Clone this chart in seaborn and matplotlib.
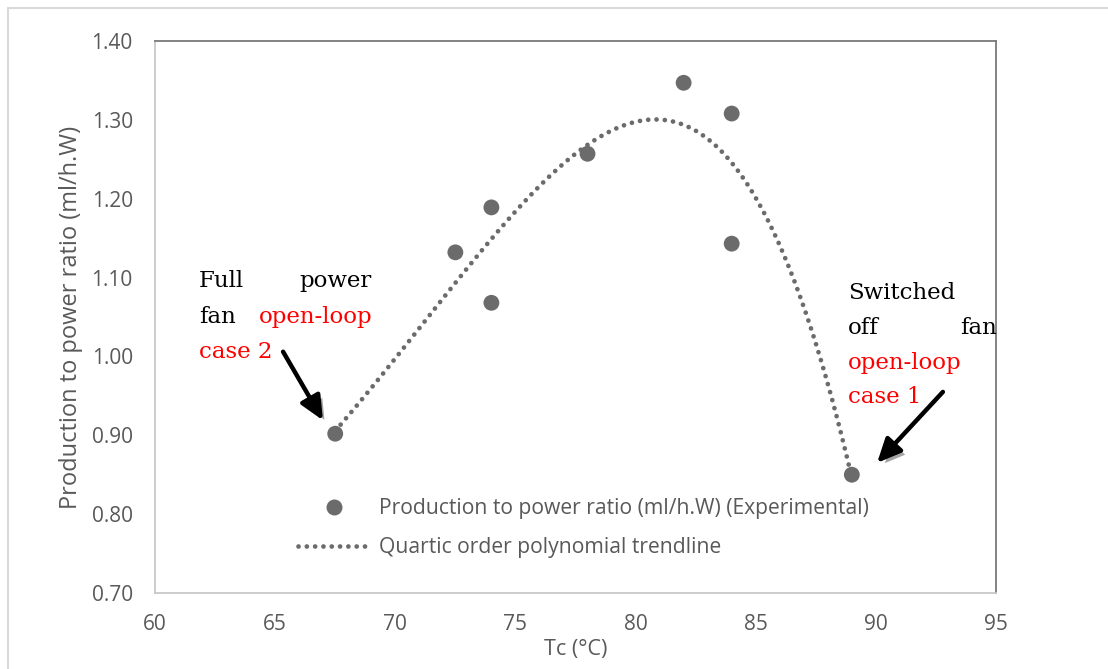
import numpy as np
import pandas as pd
import matplotlib
matplotlib.use("Agg")
import matplotlib.pyplot as plt
import matplotlib.patheffects as pe
from matplotlib.lines import Line2D
from matplotlib.patches import Rectangle
import seaborn as sns

# ---- data ----
tc_values = [67.5, 72.5, 74.0, 74.0, 78.0, 82.0, 84.0, 84.0, 89.0]
ratio_values = [0.902, 1.132, 1.189, 1.068, 1.257, 1.347, 1.308, 1.143, 0.850]
x_ticks = [60, 65, 70, 75, 80, 85, 90, 95]
y_ticks = [0.70, 0.80, 0.90, 1.00, 1.10, 1.20, 1.30, 1.40]
scatter_label = "Production to power ratio (ml/h.W) (Experimental)"
trend_label = "Quartic order polynomial trendline"

df = pd.DataFrame({"Tc": tc_values, "ratio": ratio_values})

sns.set_theme(style="white")
plt.rcParams["font.family"] = ["Open Sans", "DejaVu Sans"]

W, H = 1108, 669
fig = plt.figure(figsize=(W / 100, H / 100), dpi=100)
ax = fig.add_axes([155 / W, 1 - 593 / H, (996 - 155) / W, (593 - 41) / H])

pt_col = "#6b6b6b"
txt_col = "#595959"
dots = (0, (0.01, 1.75))

# trendline (quartic fit)
sns.regplot(data=df, x="Tc", y="ratio", order=4, ci=None, scatter=False, ax=ax,
            line_kws=dict(color=pt_col, lw=3.4, ls=dots, dash_capstyle="round"))
# points
sns.scatterplot(data=df, x="Tc", y="ratio", ax=ax, s=130, color=pt_col,
                edgecolor="none", zorder=3)

ax.set_xlim(60, 95)
ax.set_ylim(0.70, 1.40)
ax.set_xticks(x_ticks)
ax.set_yticks(y_ticks)
ax.set_yticklabels([f"{v:.2f}" for v in y_ticks])
ax.tick_params(axis="both", length=0, labelsize=15, labelcolor=txt_col)
ax.tick_params(axis="y", pad=16)
ax.tick_params(axis="x", pad=15)
ax.set_xlabel("Tc (°C)", fontsize=15.5, color=txt_col, labelpad=3)
ax.set_ylabel("Production to power ratio (ml/h.W)", fontsize=17, color=txt_col, labelpad=6)

for s in ["left", "bottom"]:
    ax.spines[s].set_color("#c8c8c8")
    ax.spines[s].set_linewidth(1.3)
for s in ["top", "right"]:
    ax.spines[s].set_color("#7a7a7a")
    ax.spines[s].set_linewidth(1.3)

# legend
handles = [
    Line2D([], [], ls="none", marker="o", markersize=11.5, color=pt_col, markeredgewidth=0),
    Line2D([], [], color=pt_col, lw=3.4, ls=dots, dash_capstyle="round"),
]
ax.legend(handles, [scatter_label, trend_label], loc="upper left",
          bbox_to_anchor=(0.170, 0.172), frameon=False, borderpad=0,
          borderaxespad=0, fontsize=15.2, handlelength=3.4, handletextpad=0.45,
          labelspacing=0.85, labelcolor=txt_col)

# outer frame
fig.patches.append(Rectangle((8 / W, -0.05), 1.2, 1 - 8 / H + 0.05,
                             transform=fig.transFigure, fill=False,
                             edgecolor="#d9d9d9", lw=1.5))

# annotation texts (serif)
serif = ["DejaVu Serif"]
def ftext(px, py, s, color="black"):
    fig.text(px / W, 1 - py / H, s, fontsize=16.5, family=serif, color=color,
             ha="left", va="center")

def rtext(px, py, s, color="black"):
    fig.text(px / W, 1 - py / H, s, fontsize=16.5, family=serif, color=color,
             ha="right", va="center")

ftext(199, 281, "Full")
rtext(372, 281, "power")
ftext(199, 317, "fan")
rtext(372, 317, "open-loop", "red")
ftext(199, 352, "case 2", "red")

ftext(848, 293, "Switched")
ftext(848, 328, "off")
rtext(997, 328, "fan")
ftext(848, 363, "open-loop", "red")
ftext(848, 397, "case 1", "red")

# arrows with shadow
shadow = [pe.withSimplePatchShadow(offset=(3, -3), shadow_rgbFace="#9a9a9a", alpha=0.9)]
for tail, head in [((65.33, 1.006), (66.99, 0.919)), ((92.79, 0.955), (90.05, 0.865))]:
    ann = ax.annotate("", xy=head, xytext=tail,
                      arrowprops=dict(arrowstyle="-|>,head_length=1.2,head_width=0.55",
                                      lw=3.2, color="black", shrinkA=0, shrinkB=0))
    ann.arrow_patch.set_path_effects(shadow)

fig.savefig("out.png", dpi=100)
